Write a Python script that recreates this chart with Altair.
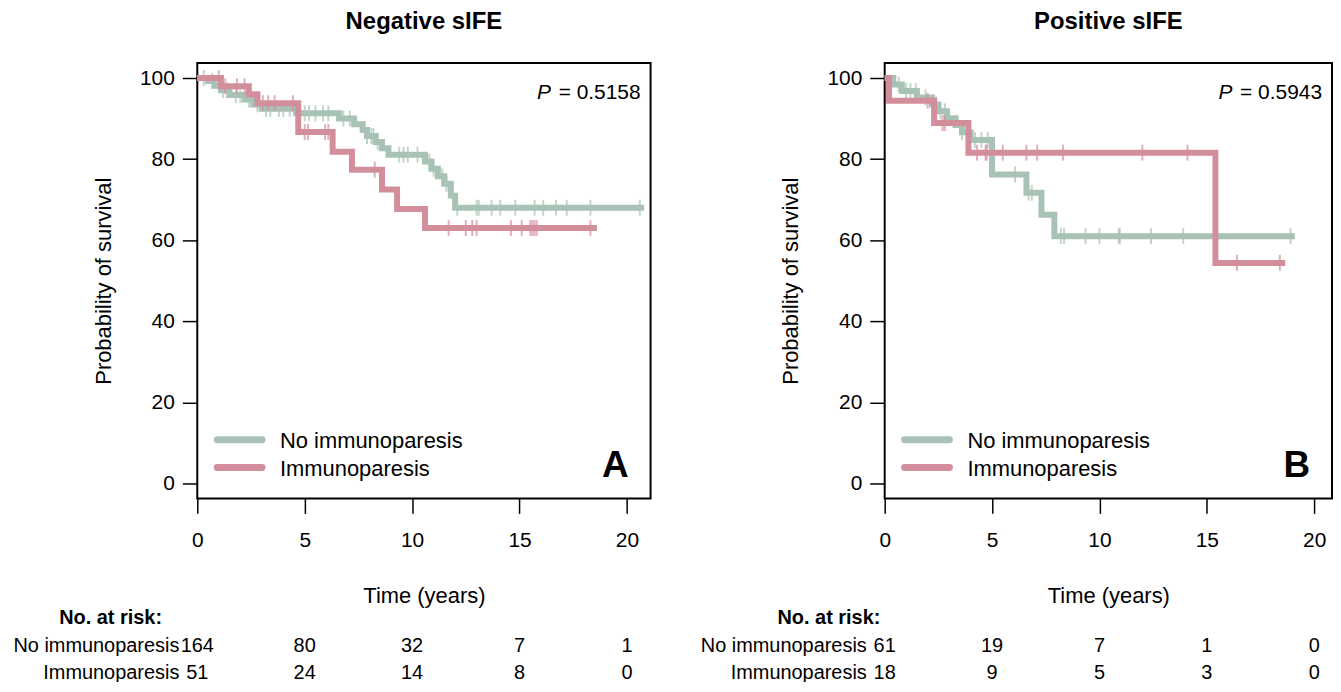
import altair as alt
import pandas as pd

GREEN = "#a8c3b5"
RED = "#d38e9c"
FONT = "Liberation Sans"

groups = ["No immunoparesis", "Immunoparesis"]

# ---- Panel A: Negative sIFE ----
a_no_time = [0, 0.5, 0.8, 1.1, 1.5, 2.2, 2.6, 3.0, 4.6, 6.6, 7.3, 7.7, 7.9, 8.3, 8.6, 8.9,
             10.6, 10.9, 11.2, 11.5, 11.8, 12.0, 20.8]
a_no_surv = [100, 99.3, 98.1, 97.0, 95.8, 94.7, 93.5, 92.4, 91.3, 90.0, 88.6, 87.2, 85.7, 84.2,
             82.7, 81.1, 79.4, 77.6, 75.8, 73.9, 71.0, 68.0, 68.0]
a_no_cens = [0.3, 0.7, 1.2, 1.4, 1.8, 2.0, 2.4, 2.8, 3.2, 3.4, 3.8, 4.0, 4.3, 5.0, 5.2, 5.5,
             5.85, 6.1, 6.8, 7.1, 7.9, 8.1, 8.2, 8.4, 9.4, 9.6, 9.8, 10.25, 10.8, 11.0, 11.4,
             11.6, 12.1, 13.0, 13.1, 13.7, 14.1, 14.8, 15.7, 16.1, 16.7, 17.2, 18.3, 20.6]
a_im_time = [0, 1.1, 2.4, 2.8, 4.7, 6.3, 7.2, 8.6, 9.3, 10.6, 18.6]
a_im_surv = [100, 98.0, 96.0, 93.8, 86.7, 81.8, 77.4, 72.5, 67.7, 63.0, 63.0]
a_im_cens = [1.0, 1.3, 1.85, 2.2, 3.05, 3.3, 3.6, 4.45, 5.0, 5.15, 5.95, 6.1, 8.26, 11.7,
             12.5, 12.8, 13.0, 14.6, 15.1, 15.5, 15.6, 15.7, 15.8, 18.3]

# ---- Panel B: Positive sIFE ----
b_no_time = [0, 0.4, 0.8, 1.5, 2.2, 2.5, 2.9, 3.3, 3.6, 4.0, 5.0, 6.6, 7.3, 7.9, 19.1]
b_no_surv = [100, 98.4, 96.8, 95.2, 93.5, 91.8, 90.1, 88.4, 86.6, 84.7, 76.2, 71.7, 66.3, 61.0, 61.0]
b_no_cens = [0.65, 1.0, 1.2, 1.45, 1.9, 2.4, 2.6, 2.8, 3.0, 3.6, 4.2, 4.5, 4.8, 6.07, 6.7,
             6.85, 8.2, 8.35, 9.35, 10.0, 10.9, 10.95, 12.4, 13.9, 18.9]
b_im_time = [0, 0.2, 2.3, 3.9, 15.4, 18.65]
b_im_surv = [100, 94.4, 88.9, 81.6, 54.4, 54.4]
b_im_cens = [2.0, 2.7, 2.8, 4.3, 4.7, 4.75, 5.5, 6.6, 7.1, 8.3, 12.0, 14.1, 16.4, 18.4]

# ---- Numbers at risk ----
risk_times = [0, 5, 10, 15, 20]
a_no_risk = [164, 80, 32, 7, 1]
a_im_risk = [51, 24, 14, 8, 0]
b_no_risk = [61, 19, 7, 1, 0]
b_im_risk = [18, 9, 5, 3, 0]

x_ticks = [0, 5, 10, 15, 20]
y_ticks = [0, 20, 40, 60, 80, 100]


def surv_at(times, survs, t):
    s = survs[0]
    for ti, si in zip(times, survs):
        if ti <= t:
            s = si
    return s


def panel(title, letter, pval, width, xmax, no_t, no_s, no_c, im_t, im_s, im_c,
          no_r, im_r, header_dx):
    H = 437
    xs = alt.Scale(domain=[0, xmax], nice=False, zero=False)
    ys = alt.Scale(domain=[-3.7, 103.7], nice=False, zero=False)
    xax = alt.Axis(values=x_ticks, title="Time (years)", domain=False, grid=False,
                   tickSize=15, tickWidth=1.5, tickColor="black", labelFontSize=21,
                   labelPadding=16, labelColor="black", labelFlush=False,
                   titleFontSize=22, titleFontWeight="normal", titlePadding=35,
                   titleColor="black", labelFont=FONT, titleFont=FONT, format="d")
    yax = alt.Axis(values=y_ticks, title="Probability of survival", domain=False, grid=False,
                   tickSize=15, tickWidth=1.5, tickColor="black", labelFontSize=21,
                   labelPadding=8, labelColor="black", labelFlush=False,
                   titleFontSize=22, titleFontWeight="normal", titlePadding=24,
                   titleColor="black", labelFont=FONT, titleFont=FONT, format="d")
    X = alt.X("t:Q", scale=xs, axis=xax)
    Y = alt.Y("s:Q", scale=ys, axis=yax)

    def line(t, s, color):
        df = pd.DataFrame({"t": t, "s": s})
        return alt.Chart(df).mark_line(interpolate="step-after", strokeWidth=6,
                                       color=color).encode(x=X, y=Y)

    def cens(t, s, c, color):
        df = pd.DataFrame({"t": c, "s": [surv_at(t, s, ci) for ci in c]})
        return alt.Chart(df).mark_tick(orient="vertical", size=16, thickness=2,
                                       color=color).encode(x=X, y=Y)

    def risk_row(n, ypix):
        df = pd.DataFrame({"t": risk_times, "n": n})
        return alt.Chart(df).mark_text(fontSize=20, font=FONT, align="center",
                                       baseline="middle", color="black").encode(
            x=X, y=alt.value(ypix), text="n:Q")

    lab_df = pd.DataFrame({"label": groups})
    layers = [
        line(no_t, no_s, GREEN), cens(no_t, no_s, no_c, GREEN),
        line(im_t, im_s, RED), cens(im_t, im_s, im_c, RED),
    ]
    row_y = [585, 612]
    for i, col in enumerate([GREEN, RED]):
        sub = lab_df.iloc[[i]]
        layers.append(alt.Chart(sub).mark_rule(strokeWidth=7, strokeCap="round", color=col).encode(
            x=alt.value(20), x2=alt.value(65), y=alt.value(378 + 28 * i)))
        layers.append(alt.Chart(sub).mark_text(fontSize=22, font=FONT, align="left",
                                               baseline="middle", color="black").encode(
            x=alt.value(83), y=alt.value(379 + 28 * i), text="label:N"))
        layers.append(alt.Chart(sub).mark_text(fontSize=20, font=FONT, align="right",
                                               baseline="middle", color="black").encode(
            x=alt.value(-18), y=alt.value(row_y[i]), text="label:N"))
    info = pd.DataFrame({"letter": [letter], "p": ["= " + pval], "P": ["P"],
                         "hdr": ["No. at risk:"]})
    layers += [
        alt.Chart(info).mark_text(fontSize=21, font=FONT, fontStyle="italic", align="right",
                                  baseline="middle", color="black").encode(
            x=alt.value(width - 100), y=alt.value(30), text="P:N"),
        alt.Chart(info).mark_text(fontSize=21, font=FONT, align="right",
                                  baseline="middle", color="black").encode(
            x=alt.value(width - 10), y=alt.value(30), text="p:N"),
        alt.Chart(info).mark_text(fontSize=37, font=FONT, fontWeight="bold", align="right",
                                  baseline="middle", color="black").encode(
            x=alt.value(width - 22), y=alt.value(404), text="letter:N"),
        alt.Chart(info).mark_text(fontSize=20, font=FONT, fontWeight="bold", align="center",
                                  baseline="middle", color="black").encode(
            x=alt.value(header_dx), y=alt.value(557), text="hdr:N"),
        risk_row(no_r, row_y[0]), risk_row(im_r, row_y[1]),
    ]
    return alt.layer(*layers).properties(
        width=width, height=H,
        title=alt.TitleParams(title, fontSize=24, fontWeight="bold", font=FONT,
                              anchor="middle", frame="group", offset=29, color="black"))


pa = panel("Negative sIFE", "A", "0.5158", 455, 21.1, a_no_time, a_no_surv, a_no_cens,
           a_im_time, a_im_surv, a_im_cens, a_no_risk, a_im_risk, -87)
pb = panel("Positive sIFE", "B", "0.5943", 449, 20.83, b_no_time, b_no_surv, b_no_cens,
           b_im_time, b_im_surv, b_im_cens, b_no_risk, b_im_risk, -56)

chart = alt.hconcat(pa, pb, spacing=42).properties(
    padding={"left": 4, "top": 0, "right": 0, "bottom": -3}
).configure_view(stroke="black", strokeWidth=2)

chart.save("out.html", embed_options={"renderer": "svg", "actions": False})
